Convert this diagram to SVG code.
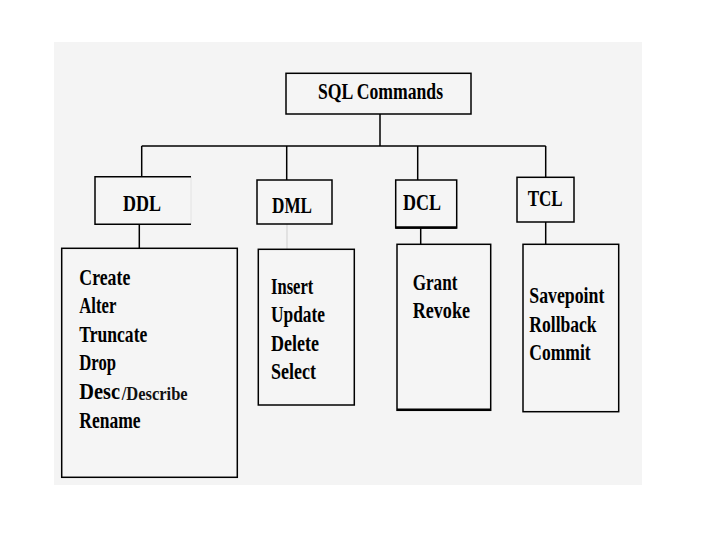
<svg xmlns="http://www.w3.org/2000/svg" width="720" height="540" viewBox="0 0 720 540">
  <style>
    .box { fill: #f5f5f5; stroke: #000; stroke-width: 1.5; }
    .edge { fill: none; stroke: #000; stroke-width: 1.5; }
    .t { font-family: "Liberation Serif", "Times New Roman", serif; font-weight: bold; font-size: 24px; fill: #000; }
    .s { font-family: "Liberation Serif", "Times New Roman", serif; font-weight: bold; font-size: 19px; fill: #111; }
  </style>
  <rect x="0" y="0" width="720" height="540" fill="#ffffff"/>
  <rect x="54" y="42" width="588" height="443" fill="#f4f4f4"/>

  <g id="connectors">
    <path class="edge" d="M380,114 V146"/>
    <path class="edge" d="M141.7,146 H545.7"/>
    <path class="edge" d="M141.7,146 V176.7"/>
    <path class="edge" d="M286.7,146 V180"/>
    <path class="edge" d="M417.7,146 V180"/>
    <path class="edge" d="M545.7,146 V177.3"/>
    <path class="edge" d="M139.3,224.3 V248.3"/>
    <path fill="none" stroke="#cfcfcf" stroke-width="1" d="M287,224 V249.3"/>
    <path class="edge" d="M420.7,228 V244.3"/>
    <path class="edge" d="M545.7,222 V244.3"/>
  </g>

  <g id="sql-commands">
    <rect class="box" x="286" y="73.3" width="185" height="40.7"/>
    <text class="t" x="318" y="99" textLength="125" lengthAdjust="spacingAndGlyphs">SQL Commands</text>
  </g>

  <g id="ddl">
    <rect x="95" y="176.7" width="96" height="47.6" fill="#f5f5f5"/>
    <path fill="none" stroke="#e2e2e2" stroke-width="1" d="M191,176.7 V224.3"/>
    <path class="edge" d="M191,176.7 H95 V224.3 H191"/>
    <text class="t" x="123" y="211" textLength="38" lengthAdjust="spacingAndGlyphs">DDL</text>
  </g>

  <g id="dml">
    <rect class="box" x="257" y="180" width="75" height="44"/>
    <text class="t" x="272" y="212.7" textLength="40" lengthAdjust="spacingAndGlyphs">DML</text>
  </g>

  <g id="dcl">
    <rect class="box" x="395.7" y="180" width="61" height="48"/>
    <path fill="none" stroke="#000" stroke-width="2.5" d="M395.7,227.5 H456.7"/>
    <text class="t" x="403" y="210" textLength="38" lengthAdjust="spacingAndGlyphs">DCL</text>
  </g>

  <g id="tcl">
    <rect class="box" x="517" y="177.3" width="57" height="44.7"/>
    <text class="t" x="527.7" y="205.7" textLength="35" lengthAdjust="spacingAndGlyphs">TCL</text>
  </g>

  <g id="ddl-commands">
    <rect class="box" x="61.7" y="248.3" width="175.6" height="229"/>
    <text class="t" x="79.3" y="285" textLength="51" lengthAdjust="spacingAndGlyphs">Create</text>
    <text class="t" x="79.3" y="313.3" textLength="37" lengthAdjust="spacingAndGlyphs">Alter</text>
    <text class="t" x="79.3" y="341.7" textLength="68" lengthAdjust="spacingAndGlyphs">Truncate</text>
    <text class="t" x="79.3" y="370.2" textLength="36.7" lengthAdjust="spacingAndGlyphs">Drop</text>
    <text class="t" x="79.3" y="399" textLength="40.7" lengthAdjust="spacingAndGlyphs">Desc</text>
    <text class="s" x="121.7" y="400" textLength="66" lengthAdjust="spacingAndGlyphs">/Describe</text>
    <text class="t" x="79.3" y="427.7" textLength="61.3" lengthAdjust="spacingAndGlyphs">Rename</text>
  </g>

  <g id="dml-commands">
    <rect class="box" x="258.3" y="249.3" width="96" height="155.7"/>
    <text class="t" x="271" y="294" textLength="42.3" lengthAdjust="spacingAndGlyphs">Insert</text>
    <text class="t" x="271" y="321.7" textLength="54" lengthAdjust="spacingAndGlyphs">Update</text>
    <text class="t" x="271" y="350.7" textLength="48" lengthAdjust="spacingAndGlyphs">Delete</text>
    <text class="t" x="271" y="379" textLength="45" lengthAdjust="spacingAndGlyphs">Select</text>
  </g>

  <g id="dcl-commands">
    <rect class="box" x="397" y="244.3" width="93.7" height="166"/>
    <path fill="none" stroke="#000" stroke-width="2.5" d="M397,409.8 H490.7"/>
    <text class="t" x="412.7" y="290" textLength="44.7" lengthAdjust="spacingAndGlyphs">Grant</text>
    <text class="t" x="412.7" y="317.7" textLength="57.3" lengthAdjust="spacingAndGlyphs">Revoke</text>
  </g>

  <g id="tcl-commands">
    <rect class="box" x="523" y="244.3" width="95.7" height="167.4"/>
    <text class="t" x="529.3" y="303.3" textLength="75" lengthAdjust="spacingAndGlyphs">Savepoint</text>
    <text class="t" x="529.3" y="331.7" textLength="67.3" lengthAdjust="spacingAndGlyphs">Rollback</text>
    <text class="t" x="529.3" y="360" textLength="61.3" lengthAdjust="spacingAndGlyphs">Commit</text>
  </g>
</svg>
